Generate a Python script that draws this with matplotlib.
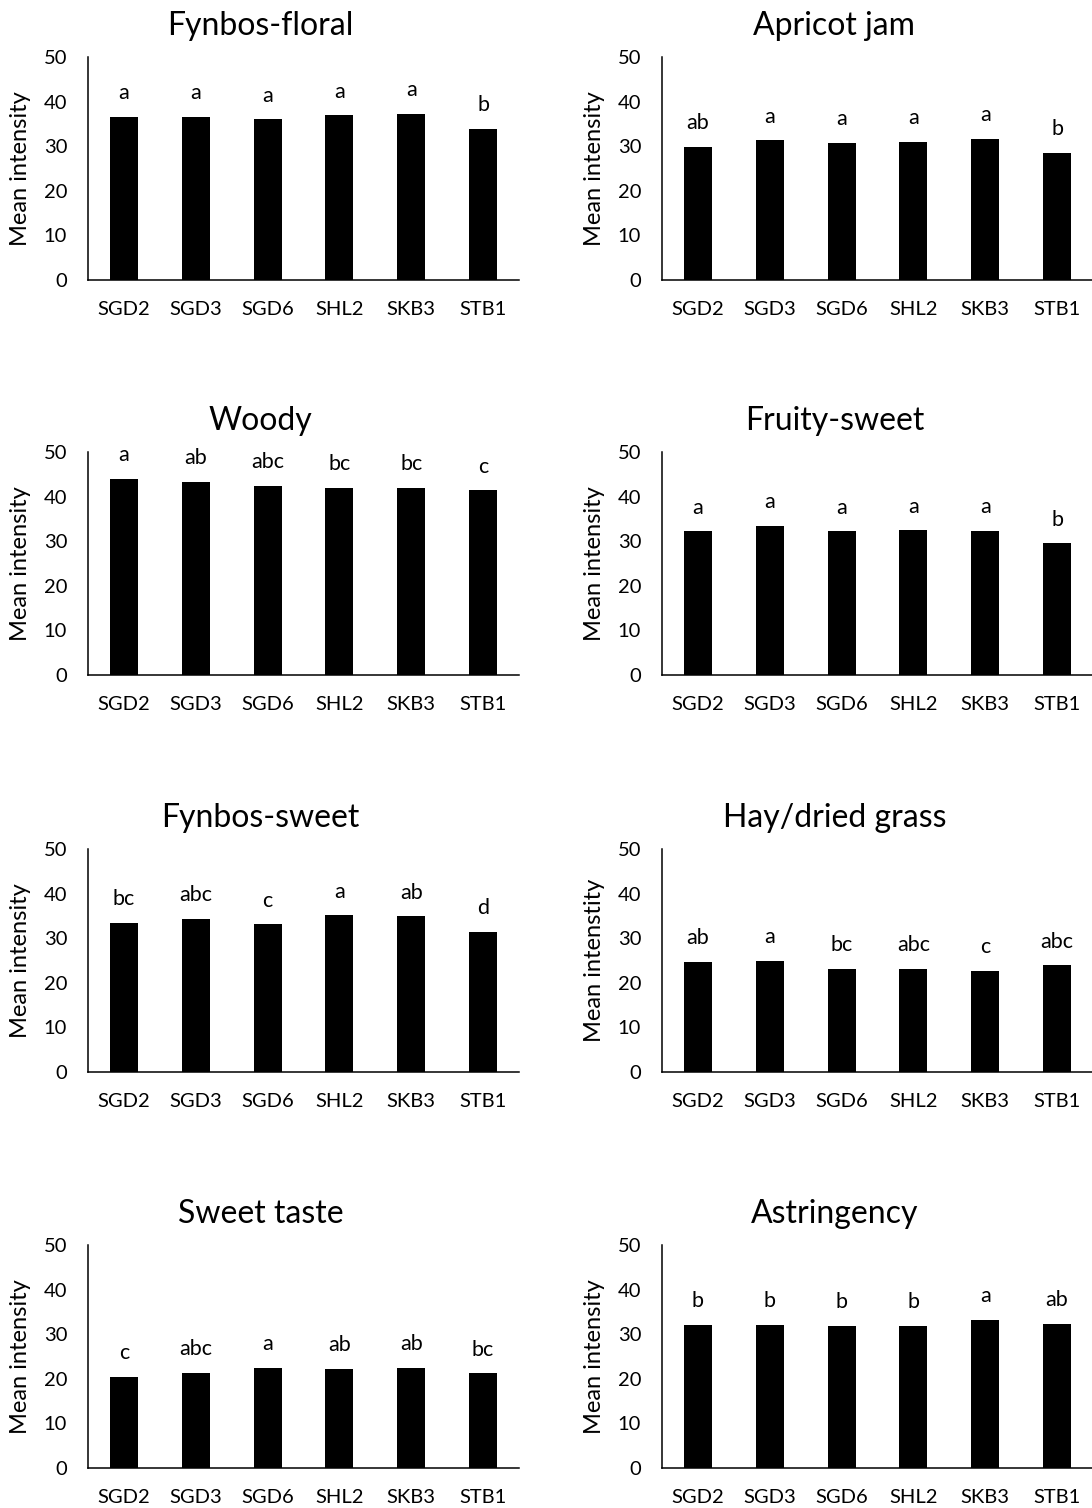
import numpy as np
import matplotlib
matplotlib.use("Agg")
import matplotlib.pyplot as plt

plt.rcParams['font.family'] = ['Lato', 'DejaVu Sans']

samples = ['SGD2', 'SGD3', 'SGD6', 'SHL2', 'SKB3', 'STB1']

titles = ['Fynbos-floral', 'Apricot jam', 'Woody', 'Fruity-sweet',
          'Fynbos-sweet', 'Hay/dried grass', 'Sweet taste', 'Astringency']

# mean intensities
fynbos_floral = [36.6, 36.6, 36.0, 36.9, 37.3, 33.9]
apricot_jam = [29.8, 31.3, 30.7, 30.9, 31.6, 28.4]
woody = [43.9, 43.3, 42.4, 42.0, 42.0, 41.4]
fruity_sweet = [32.2, 33.5, 32.2, 32.4, 32.3, 29.5]
fynbos_sweet = [33.5, 34.4, 33.1, 35.1, 34.9, 31.5]
hay_dried = [24.6, 25.0, 23.1, 23.2, 22.6, 23.9]
sweet_taste = [20.4, 21.3, 22.5, 22.3, 22.4, 21.2]
astringency = [32.0, 32.0, 31.8, 31.9, 33.2, 32.3]

# significance letters
let_fynbos_floral = ['a', 'a', 'a', 'a', 'a', 'b']
let_apricot_jam = ['ab', 'a', 'a', 'a', 'a', 'b']
let_woody = ['a', 'ab', 'abc', 'bc', 'bc', 'c']
let_fruity_sweet = ['a', 'a', 'a', 'a', 'a', 'b']
let_fynbos_sweet = ['bc', 'abc', 'c', 'a', 'ab', 'd']
let_hay_dried = ['ab', 'a', 'bc', 'abc', 'c', 'abc']
let_sweet_taste = ['c', 'abc', 'a', 'ab', 'ab', 'bc']
let_astringency = ['b', 'b', 'b', 'b', 'a', 'ab']

ylabels = ['Mean intensity'] * 8
ylabels[5] = 'Mean intenstity'  # as in the original figure

values = [fynbos_floral, apricot_jam, woody, fruity_sweet,
          fynbos_sweet, hay_dried, sweet_taste, astringency]
letters = [let_fynbos_floral, let_apricot_jam, let_woody, let_fruity_sweet,
           let_fynbos_sweet, let_hay_dried, let_sweet_taste, let_astringency]

W, H = 1092, 1508
fig = plt.figure(figsize=(W / 100, H / 100), dpi=100)

col_left = [88, 662]
ax_w = 431
row_top = [57, 452, 849, 1245]
ax_h = 223

x = np.arange(len(samples))
for i in range(8):
    r, c = divmod(i, 2)
    ax = fig.add_axes([col_left[c] / W, 1 - (row_top[r] + ax_h) / H,
                       ax_w / W, ax_h / H])
    ax.bar(x, values[i], width=0.39, color='black')
    for xi, v, lab in zip(x, values[i], letters[i]):
        ax.text(xi, v + 4, lab, ha='center', va='baseline', fontsize=15.5)
    ax.set_xlim(-0.5, 5.5)
    ax.set_ylim(0, 50)
    ax.set_yticks([0, 10, 20, 30, 40, 50])
    ax.set_xticks(x)
    ax.set_xticklabels(samples)
    ax.tick_params(length=0, labelsize=14.5, pad=15)
    ax.spines['top'].set_visible(False)
    ax.spines['right'].set_visible(False)
    ax.spines['left'].set_linewidth(1.1)
    ax.spines['bottom'].set_linewidth(1.1)
    ax.set_ylabel(ylabels[i], fontsize=17)
    ax.yaxis.set_label_coords(-0.132, 0.5)
    ax.set_title(titles[i], fontsize=23, pad=16, x=0.4)

fig.savefig('out.png', dpi=100)
